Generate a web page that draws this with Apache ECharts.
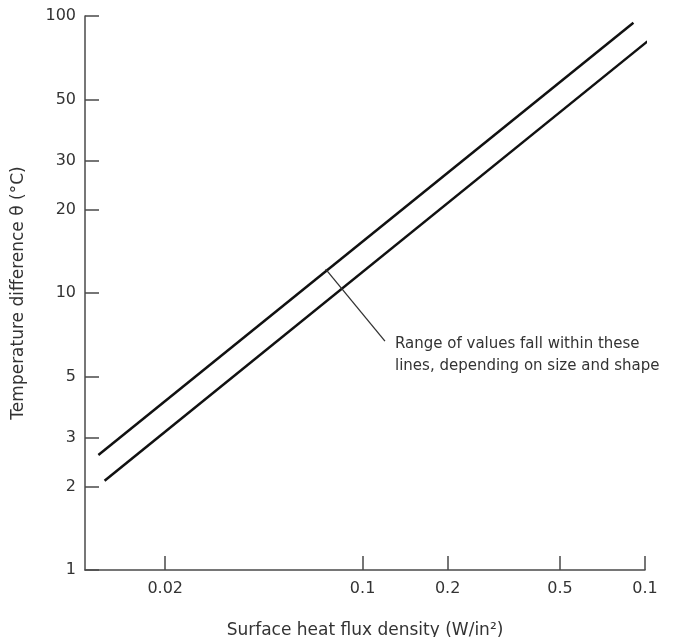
<!DOCTYPE html>
<html lang="en">
<head>
  <meta charset="UTF-8">
  <title>Temperature difference vs surface heat flux density</title>
  <script src="https://cdn.jsdelivr.net/npm/echarts@6/dist/echarts.min.js"></script>
  <style>
    html, body { margin: 0; padding: 0; background: #fff; }
    #main { width: 675px; height: 637px; }
  </style>
</head>
<body>
<div id="main"></div>
<script type="text/javascript">
// axis ticks (the last x label is printed "0.1" in the original figure)
var xTickValues = [0.02, 0.1, 0.2, 0.5, 1];
var xTickLabels = ['0.02', '0.1', '0.2', '0.5', '0.1'];
var yTickValues = [1, 2, 3, 5, 10, 20, 30, 50, 100];
var yTickLabels = ['1', '2', '3', '5', '10', '20', '30', '50', '100'];

// the two bounding lines: flux (W/in2) -> temperature difference (C)
var upperFlux = [0.0116, 0.91];
var upperTemp = [2.6, 94.5];
var lowerFlux = [0.0122, 1.02];
var lowerTemp = [2.1, 81];

// leader line of the note
var noteFlux = [0.074, 0.12];
var noteTemp = [12.2, 6.7];

function pairs(xs, ys) {
  var out = [];
  for (var i = 0; i < xs.length; i++) {
    out.push([xs[i], ys[i]]);
  }
  return out;
}

function tickLabel(values, labels) {
  return function (v) {
    for (var i = 0; i < values.length; i++) {
      if (Math.abs(v - values[i]) / values[i] < 1e-6) return labels[i];
    }
    return '';
  };
}

var font = 'DejaVu Sans';
var axisColor = '#4a4a4a';

var myChart = echarts.init(document.getElementById('main'));
var option = {
  backgroundColor: '#fff',
  animation: false,
  grid: {
    left: 85,
    right: 30,
    top: 16,
    bottom: 67,
    containLabel: false,
    outerBoundsMode: 'none'
  },
  xAxis: {
    type: 'log',
    logBase: 10,
    min: 0.0104,
    max: 1,
    name: 'Surface heat flux density (W/in²)',
    nameLocation: 'middle',
    nameGap: 52,
    nameTextStyle: { fontFamily: font, fontSize: 17, color: '#333' },
    axisLine: { lineStyle: { color: axisColor, width: 1.5 } },
    axisTick: {
      customValues: xTickValues,
      inside: true,
      length: 14,
      lineStyle: { color: axisColor, width: 1.5 }
    },
    axisLabel: {
      customValues: xTickValues,
      margin: 11,
      fontFamily: font,
      fontSize: 16,
      color: '#333',
      formatter: tickLabel(xTickValues, xTickLabels)
    },
    splitLine: { show: false },
    minorTick: { show: false }
  },
  yAxis: {
    type: 'log',
    logBase: 10,
    min: 1,
    max: 100,
    name: 'Temperature difference θ (°C)',
    nameLocation: 'middle',
    nameGap: 58,
    nameTextStyle: { fontFamily: font, fontSize: 17, color: '#333' },
    axisLine: { show: true, lineStyle: { color: axisColor, width: 1.5 } },
    axisTick: {
      show: true,
      customValues: yTickValues,
      inside: true,
      length: 14,
      lineStyle: { color: axisColor, width: 1.5 }
    },
    axisLabel: {
      customValues: yTickValues,
      margin: 9,
      fontFamily: font,
      fontSize: 16,
      color: '#333',
      formatter: tickLabel(yTickValues, yTickLabels)
    },
    splitLine: { show: false },
    minorTick: { show: false }
  },
  series: [
    {
      name: 'upper',
      type: 'line',
      data: pairs(upperFlux, upperTemp),
      symbol: 'none',
      clip: false,
      lineStyle: { color: '#111', width: 2.5 }
    },
    {
      name: 'lower',
      type: 'line',
      data: pairs(lowerFlux, lowerTemp),
      symbol: 'none',
      clip: false,
      lineStyle: { color: '#111', width: 2.5 }
    },
    {
      name: 'note',
      type: 'line',
      data: pairs(noteFlux, noteTemp),
      symbol: 'none',
      lineStyle: { color: '#333', width: 1.3 }
    }
  ],
  graphic: [
    {
      type: 'text',
      left: 395,
      top: 333,
      style: {
        text: 'Range of values fall within these\nlines, depending on size and shape',
        font: '15px "DejaVu Sans"',
        lineHeight: 22,
        fill: '#333'
      }
    }
  ]
};
myChart.setOption(option);
</script>
</body>
</html>
